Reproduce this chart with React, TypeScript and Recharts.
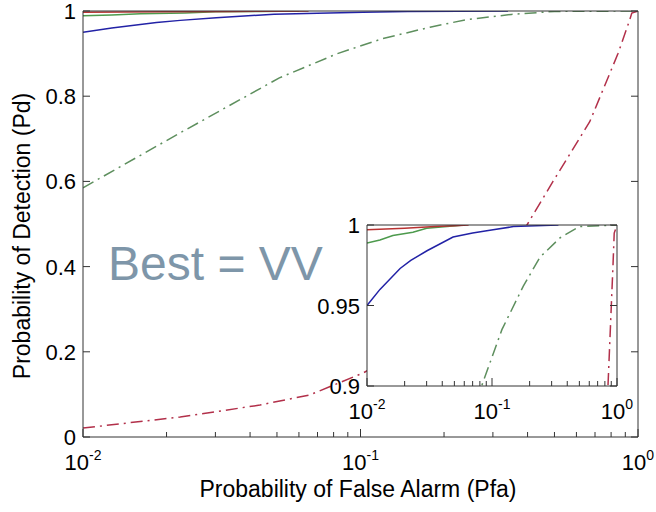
import React from "react";
import { LineChart, Line, XAxis, YAxis, CartesianGrid } from "recharts";

// Pfa / Pd readings for each curve
const pfaBlue = [0.01, 0.0127, 0.0184, 0.0224, 0.0302, 0.0488, 0.07, 0.102, 0.148, 0.34];
const pdBlue = [0.95, 0.96, 0.973, 0.978, 0.984, 0.9925, 0.995, 0.997, 0.999, 1];

const pfaGreen = [0.01, 0.0127, 0.0161, 0.0233, 0.03, 0.0437, 0.06];
const pdGreen = [0.9888, 0.9907, 0.9935, 0.9955, 0.998, 0.999, 1];

const pfaRed = [0.01, 0.02, 0.035, 0.05, 0.065];
const pdRed = [0.997, 0.998, 0.999, 0.9995, 1];

const pfaGreenDash = [0.01, 0.0224, 0.051, 0.0826, 0.12, 0.178, 0.242, 0.35, 0.5, 1];
const pdGreenDash = [0.585, 0.714, 0.843, 0.9, 0.935, 0.962, 0.98, 0.992, 0.999, 1];

const pfaRedDash = [0.01, 0.0224, 0.0434, 0.0658, 0.102, 0.2, 0.3, 0.4, 0.494, 0.67, 0.847, 0.93, 0.95, 1];
const pdRedDash = [0.021, 0.047, 0.075, 0.099, 0.15, 0.255, 0.37, 0.5, 0.6, 0.74, 0.9, 0.976, 0.995, 1];

// axis ticks
const logTicks = [
  0.01, 0.02, 0.03, 0.04, 0.05, 0.06, 0.07, 0.08, 0.09,
  0.1, 0.2, 0.3, 0.4, 0.5, 0.6, 0.7, 0.8, 0.9, 1,
];
const majorTicks = [0.01, 0.1, 1];
const majorExps = ["-2", "-1", "0"];
const mainYTicks = [0, 0.2, 0.4, 0.6, 0.8, 1];
const mainYLabels = ["0", "0.2", "0.4", "0.6", "0.8", "1"];
const insetYTicks = [0.9, 0.95, 1];
const insetYLabels = ["0.9", "0.95", "1"];

const toPoints = (xs: number[], ys: number[]) => xs.map((x, i) => ({ pfa: x, pd: ys[i] }));

const series = [
  { key: "redDash", data: toPoints(pfaRedDash, pdRedDash), color: "#b2304a", dash: "12 5 2 5" },
  { key: "greenDash", data: toPoints(pfaGreenDash, pdGreenDash), color: "#5e8f5e", dash: "12 5 2 5" },
  { key: "blue", data: toPoints(pfaBlue, pdBlue), color: "#2222a6", dash: undefined },
  { key: "green", data: toPoints(pfaGreen, pdGreen), color: "#4d9a4d", dash: undefined },
  { key: "red", data: toPoints(pfaRed, pdRed), color: "#b83232", dash: undefined },
];

const FONT = "'Liberation Sans', Arial, Helvetica, sans-serif";
const AXIS = "#333";

const majorIndex = (v: number) => majorTicks.findIndex((t) => Math.abs(t - v) < 1e-9);

// ticks are drawn inward by the tick components themselves (MATLAB style)
const BottomTick = ({ x, y, payload }: any) => {
  const i = majorIndex(payload.value);
  const len = i >= 0 ? 8 : 5;
  return (
    <g>
      <line x1={x} y1={y} x2={x} y2={y - len} stroke={AXIS} />
      {i >= 0 && (
        <text x={x} y={y + 33} textAnchor="middle" fontSize={22} fill="#000" fontFamily={FONT}>
          <tspan>10</tspan>
          <tspan dy={-10} fontSize={14}>{majorExps[i]}</tspan>
        </text>
      )}
    </g>
  );
};

const TopTick = ({ x, y, payload }: any) => {
  const len = majorIndex(payload.value) >= 0 ? 8 : 5;
  return <line x1={x} y1={y} x2={x} y2={y + len} stroke={AXIS} />;
};

const makeLeftTick = (ticks: number[], labels: string[]) => ({ x, y, payload }: any) => {
  const i = ticks.findIndex((t) => Math.abs(t - payload.value) < 1e-9);
  return (
    <g>
      <line x1={x} y1={y} x2={x + 7} y2={y} stroke={AXIS} />
      <text x={x - 7} y={y} dy={8} textAnchor="end" fontSize={22} fill="#000" fontFamily={FONT}>
        {i >= 0 ? labels[i] : ""}
      </text>
    </g>
  );
};

const RightTick = ({ x, y }: any) => <line x1={x} y1={y} x2={x - 7} y2={y} stroke={AXIS} />;

const MainLeftTick = makeLeftTick(mainYTicks, mainYLabels);
const InsetLeftTick = makeLeftTick(insetYTicks, insetYLabels);

const renderLines = () =>
  series.map((s) => (
    <Line
      key={s.key}
      data={s.data}
      dataKey="pd"
      stroke={s.color}
      strokeWidth={1.5}
      strokeDasharray={s.dash}
      dot={false}
      isAnimationActive={false}
    />
  ));

const renderAxes = (yDomain: number[], yTicks: number[], xHeight: number, yWidth: number, LeftTick: any) => [
  <XAxis
    key="bottom"
    dataKey="pfa"
    type="number"
    scale="log"
    domain={[0.01, 1]}
    ticks={logTicks}
    interval={0}
    allowDataOverflow
    height={xHeight}
    tickSize={0}
    tickMargin={0}
    tickLine={false}
    axisLine={{ stroke: AXIS }}
    tick={<BottomTick />}
  />,
  <YAxis
    key="left"
    type="number"
    domain={yDomain}
    ticks={yTicks}
    interval={0}
    allowDataOverflow
    width={yWidth}
    tickSize={0}
    tickMargin={0}
    tickLine={false}
    axisLine={{ stroke: AXIS }}
    tick={<LeftTick />}
  />,
  <XAxis
    key="top"
    xAxisId="top"
    orientation="top"
    type="number"
    scale="log"
    domain={[0.01, 1]}
    ticks={logTicks}
    interval={0}
    allowDataOverflow
    height={1}
    tickSize={0}
    tickMargin={0}
    tickLine={false}
    axisLine={{ stroke: AXIS }}
    tick={<TopTick />}
  />,
  <YAxis
    key="right"
    yAxisId="right"
    orientation="right"
    type="number"
    domain={yDomain}
    ticks={yTicks}
    interval={0}
    allowDataOverflow
    width={1}
    tickSize={0}
    tickMargin={0}
    tickLine={false}
    axisLine={{ stroke: AXIS }}
    tick={<RightTick />}
  />,
];

const App = () => {
  return (
    <div style={{ position: "absolute", left: 0, top: 0, width: 656, height: 512, background: "#fff", fontFamily: FONT }}>
      <LineChart width={656} height={512} margin={{ top: 10, right: 17, bottom: 0, left: 0 }}>
        {renderAxes([0, 1], mainYTicks, 75, 83, MainLeftTick)}
        {renderLines()}
      </LineChart>

      <div style={{ position: "absolute", left: 300, top: 205 }}>
        <LineChart width={340} height={225} margin={{ top: 19, right: 22, bottom: 0, left: 0 }}>
          <CartesianGrid fill="#fff" stroke="none" horizontal={false} vertical={false} />
          {renderAxes([0.9, 1], insetYTicks, 44, 67, InsetLeftTick)}
          {renderLines()}
        </LineChart>
      </div>

      <svg width={656} height={512} style={{ position: "absolute", left: 0, top: 0, pointerEvents: "none" }}>
        <text x={108} y={280} fontSize={48} fill="#7e96a9" fontFamily={FONT}>
          Best = VV
        </text>
        <text x={358} y={497} textAnchor="middle" fontSize={23} fill="#000" fontFamily={FONT}>
          Probability of False Alarm (Pfa)
        </text>
        <text
          x={0}
          y={0}
          transform="translate(30 236) rotate(-90)"
          textAnchor="middle"
          fontSize={23}
          fill="#000"
          fontFamily={FONT}
        >
          Probability of Detection (Pd)
        </text>
      </svg>
    </div>
  );
};

export default App;
